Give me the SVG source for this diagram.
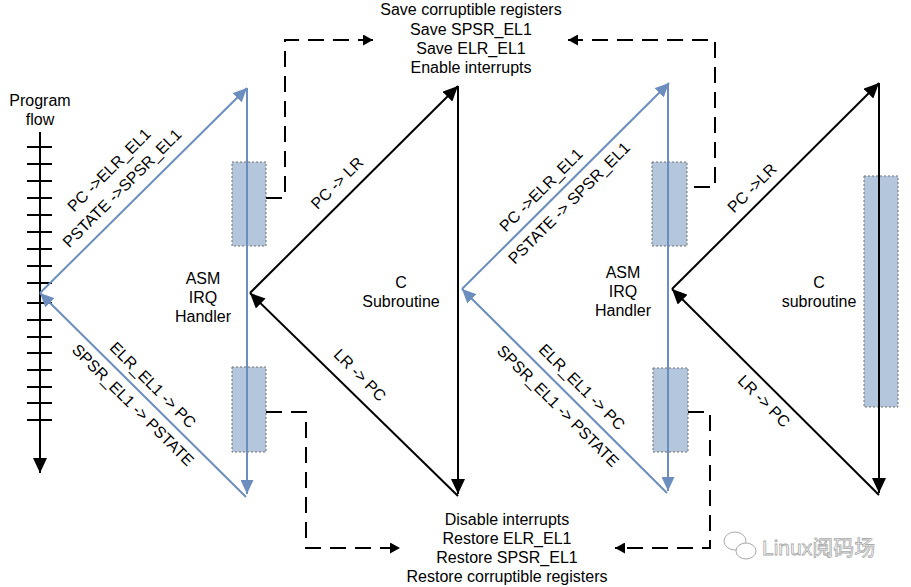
<svg xmlns="http://www.w3.org/2000/svg" width="911" height="587" viewBox="0 0 911 587">
<style>
text{font-family:"Liberation Sans",Arial,sans-serif;font-size:16px;fill:#000;text-anchor:middle}
.blk{stroke:#000;stroke-width:2;fill:none}
.blu{stroke:#6C8EBF;stroke-width:2;fill:none}
.dash{stroke:#000;stroke-width:2;fill:none;stroke-dasharray:16 9}
.box{fill:#B4C6DC;stroke:#6f6f6f;stroke-width:1;stroke-dasharray:2 2}
.tick{stroke:#000;stroke-width:2}
.wm{font-size:21px;fill:#fff;stroke:#aaa;stroke-width:0.8;text-anchor:start;font-family:"Liberation Sans","Noto Sans CJK SC",sans-serif}
</style>
<defs>
<marker id="aB" markerUnits="userSpaceOnUse" markerWidth="16" markerHeight="14" refX="15" refY="7" orient="auto"><path d="M0,0 L15,7 L0,14 z" fill="#000"/></marker>
<marker id="aU" markerUnits="userSpaceOnUse" markerWidth="15" markerHeight="13" refX="14" refY="6.5" orient="auto"><path d="M0,0 L14,6.5 L0,13 z" fill="#6C8EBF"/></marker>
<marker id="aD" markerUnits="userSpaceOnUse" markerWidth="11" markerHeight="11" refX="10" refY="5.5" orient="auto"><path d="M0,0 L10,5.5 L0,11 z" fill="#000"/></marker>
</defs>
<rect width="911" height="587" fill="#fff"/>

<g id="program-flow">
<text x="40" y="106">Program</text>
<text x="40" y="125">flow</text>
<line class="blk" x1="40" y1="132" x2="40" y2="473" marker-end="url(#aB)"/>
<g class="tick">
<line x1="27" y1="147" x2="52" y2="147"/><line x1="27" y1="164" x2="52" y2="164"/><line x1="27" y1="181" x2="52" y2="181"/><line x1="27" y1="198" x2="52" y2="198"/><line x1="27" y1="215" x2="52" y2="215"/><line x1="27" y1="232" x2="52" y2="232"/><line x1="27" y1="249" x2="52" y2="249"/><line x1="27" y1="266" x2="52" y2="266"/><line x1="27" y1="283" x2="52" y2="283"/>
<line x1="27" y1="303" x2="52" y2="303"/><line x1="27" y1="320" x2="52" y2="320"/><line x1="27" y1="337" x2="52" y2="337"/><line x1="27" y1="353" x2="52" y2="353"/><line x1="27" y1="370" x2="52" y2="370"/><line x1="27" y1="387" x2="52" y2="387"/><line x1="27" y1="403" x2="52" y2="403"/><line x1="27" y1="420" x2="52" y2="420"/>
</g>
</g>

<g id="asm-irq-handler-1">
<rect class="box" x="232" y="162" width="34" height="84"/>
<rect class="box" x="232" y="367" width="34" height="85"/>
<text x="203" y="283.5">ASM</text>
<text x="203" y="302.5">IRQ</text>
<text x="203" y="321.5">Handler</text>
</g>

<g id="c-subroutine-1">
<text x="401" y="287.5">C</text>
<text x="401" y="306.5">Subroutine</text>
</g>

<g id="asm-irq-handler-2">
<rect class="box" x="652" y="162" width="35" height="84"/>
<rect class="box" x="653" y="368" width="35" height="84"/>
<text x="623" y="277.5">ASM</text>
<text x="623" y="296.5">IRQ</text>
<text x="623" y="315.5">Handler</text>
</g>

<g id="c-subroutine-2">
<rect class="box" x="864" y="176" width="34" height="231"/>
<text x="819" y="287.5">C</text>
<text x="819" y="307">subroutine</text>
</g>

<g id="save-block">
<text x="471" y="15">Save corruptible registers</text>
<text x="471" y="34.5">Save SPSR_EL1</text>
<text x="471" y="53.5">Save ELR_EL1</text>
<text x="471" y="73">Enable interrupts</text>
</g>

<g id="restore-block">
<text x="507" y="525">Disable interrupts</text>
<text x="507" y="544">Restore ELR_EL1</text>
<text x="507" y="563">Restore SPSR_EL1</text>
<text x="507" y="582">Restore corruptible registers</text>
</g>

<g id="connectors">
<line class="blu" x1="40" y1="293" x2="247" y2="88" marker-end="url(#aU)"/>
<line class="blu" x1="247" y1="88" x2="247" y2="494" marker-end="url(#aU)"/>
<line class="blu" x1="246" y1="497" x2="40" y2="293" marker-end="url(#aU)"/>

<line class="blk" x1="250" y1="293" x2="458" y2="86" marker-end="url(#aB)"/>
<line class="blk" x1="458" y1="86" x2="458" y2="494" marker-end="url(#aB)"/>
<line class="blk" x1="458" y1="496" x2="250" y2="293" marker-end="url(#aB)"/>

<line class="blu" x1="462" y1="289" x2="669" y2="83" marker-end="url(#aU)"/>
<line class="blu" x1="668" y1="83" x2="668" y2="491" marker-end="url(#aU)"/>
<line class="blu" x1="667" y1="493" x2="462" y2="289" marker-end="url(#aU)"/>

<line class="blk" x1="672" y1="289" x2="879" y2="83" marker-end="url(#aB)"/>
<line class="blk" x1="879" y1="83" x2="879" y2="493" marker-end="url(#aB)"/>
<line class="blk" x1="879" y1="495" x2="672" y2="289" marker-end="url(#aB)"/>

<path class="dash" d="M266,198 H285 V40 H373" marker-end="url(#aD)"/>
<path class="dash" d="M694,187 H715 V40 H568" marker-end="url(#aD)"/>
<path class="dash" d="M266,412 H306 V548 H400" marker-end="url(#aD)"/>
<path class="dash" d="M688,412 H710 V548 H615" marker-end="url(#aD)"/>

<g id="edge-labels">
<text transform="translate(109,170) rotate(-45)" y="5.5">PC -&gt;ELR_EL1</text>
<text transform="translate(122,188) rotate(-45)" y="5.5">PSTATE -&gt;SPSR_EL1</text>
<text transform="translate(153,385) rotate(45)" y="5.5">ELR_EL1 -&gt; PC</text>
<text transform="translate(133,405) rotate(45)" y="5.5">SPSR_EL1 -&gt; PSTATE</text>
<text transform="translate(337,183) rotate(-45)" y="5.5">PC -&gt; LR</text>
<text transform="translate(360,375) rotate(45)" y="5.5">LR -&gt; PC</text>
<text transform="translate(541,190) rotate(-45)" y="5.5">PC -&gt;ELR_EL1</text>
<text transform="translate(569,203) rotate(-45)" y="5.5">PSTATE -&gt; SPSR_EL1</text>
<text transform="translate(582,387) rotate(45)" y="5.5">ELR_EL1 -&gt; PC</text>
<text transform="translate(558,406) rotate(45)" y="5.5">SPSR_EL1 -&gt; PSTATE</text>
<text transform="translate(752,188) rotate(-45)" y="5.5">PC -&gt;LR</text>
<text transform="translate(764,401) rotate(45)" y="5.5">LR -&gt; PC</text>
</g>
</g>

<g id="watermark">
<ellipse cx="735" cy="541" rx="11" ry="9" fill="#fff" stroke="#aaa" stroke-width="1"/>
<ellipse cx="746" cy="551" rx="10" ry="8" fill="#fff" stroke="#aaa" stroke-width="1"/>
<text class="wm" x="762" y="555">Linux阅码场</text>
</g>
</svg>
